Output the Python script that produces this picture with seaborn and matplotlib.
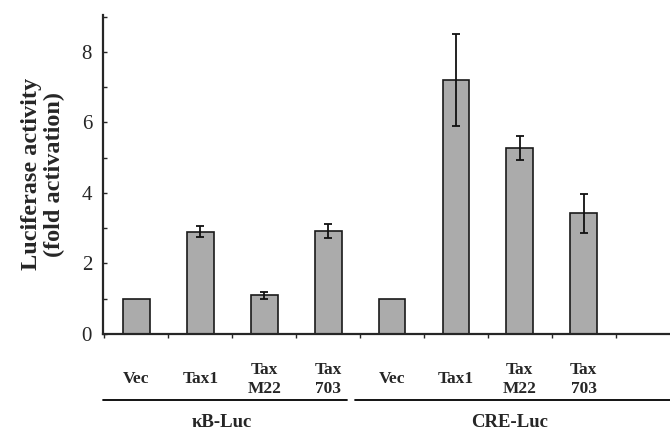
import numpy as np
import pandas as pd
import matplotlib
matplotlib.use("Agg")
import matplotlib.pyplot as plt
import seaborn as sns

# values
constructs = ["Vec", "Tax1", "Tax\nM22", "Tax\n703", "Vec", "Tax1", "Tax\nM22", "Tax\n703"]
reporter = ["κB-Luc"] * 4 + ["CRE-Luc"] * 4
fold = [1.0, 2.9, 1.1, 2.93, 1.0, 7.2, 5.27, 3.42]
err = [0.0, 0.15, 0.1, 0.2, 0.0, 1.3, 0.33, 0.55]

df = pd.DataFrame({"pos": range(len(fold)), "label": constructs,
                   "reporter": reporter, "fold": fold, "err": err})

sns.set_style("ticks")
plt.rcParams["font.family"] = ["Liberation Serif", "DejaVu Serif"]
plt.rcParams["font.weight"] = "bold"

fig = plt.figure(figsize=(6.7, 4.37), dpi=100)
ax = fig.add_axes([0.154, 0.236, 0.846, 0.730])

sns.barplot(data=df, x="pos", y="fold", color="#ababab", edgecolor="#1a1a1a",
            linewidth=1.2, width=0.42, errorbar=None, ax=ax, native_scale=True)
e = df[df["err"] > 0]
ax.errorbar(e["pos"], e["fold"], yerr=e["err"], fmt="none", ecolor="#111111",
            elinewidth=1.3, capsize=3, capthick=1.3)

ax.set_xlim(-0.52, 8.35)
ax.set_ylim(0, 9.05)
ax.set_yticks([0, 2, 4, 6, 8])
ax.set_yticks(range(0, 10), minor=True)
ax.tick_params(axis="y", which="both", direction="in", length=3, width=1,
               labelsize=15, pad=8)
ax.set_xticks(np.arange(-0.5, 8.0, 1.0))
ax.set_xticklabels([])
ax.tick_params(axis="x", which="both", direction="out", length=3, width=1)
for lab in ax.get_yticklabels():
    lab.set_fontweight("normal")

for side in ["top", "right"]:
    ax.spines[side].set_visible(False)
ax.spines["left"].set_linewidth(1.6)
ax.spines["bottom"].set_linewidth(1.6)

ax.set_xlabel("")
ax.set_ylabel("Luciferase activity\n(fold activation)", fontsize=17.5,
              fontweight="bold", labelpad=12, linespacing=1.1)

trans = ax.get_xaxis_transform()
for p, lab in zip(df["pos"], df["label"]):
    ax.text(p, -0.143, lab, transform=trans, ha="center", va="center",
            fontsize=12.5, fontweight="bold", linespacing=1.25)

for name, x0, x1 in [("κB-Luc", -0.52, 3.3), ("CRE-Luc", 3.42, 8.35)]:
    ax.plot([x0, x1], [-0.207, -0.207], transform=trans, color="black",
            lw=1.3, clip_on=False)
    ax.text((x0 + x1) / 2 - 0.05, -0.277, name, transform=trans, ha="center",
            va="center", fontsize=13.5, fontweight="bold")

fig.savefig("out.png", dpi=100)
